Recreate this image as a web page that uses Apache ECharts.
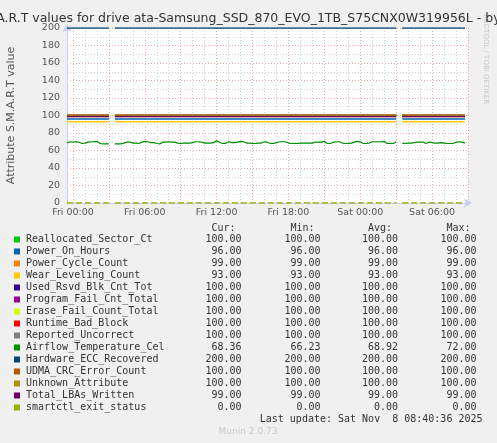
<!DOCTYPE html>
<html>
<head>
<meta charset="utf-8">
<script src="https://cdn.jsdelivr.net/npm/echarts@6/dist/echarts.min.js"></script>
<style>
  html, body { margin: 0; padding: 0; background: #f0f0f0; }
  #main { width: 497px; height: 443px; }
</style>
</head>
<body>
<div id="main"></div>
<script>
// munin "smart" day graph, 15 min slots starting Thu 23:30
var slotMinutes = 15;
var slotCount = 135;
var startDay = 'Thu', startMinute = 23 * 60 + 30;
var dayNames = ['Thu', 'Fri', 'Sat'];
var tickLabels = ['Fri 00:00', 'Fri 06:00', 'Fri 12:00', 'Fri 18:00', 'Sat 00:00', 'Sat 06:00'];
var gapSlots = [15, 111]; // no data (munin update missed)

var names = ['Reallocated_Sector_Ct', 'Power_On_Hours', 'Power_Cycle_Count', 'Wear_Leveling_Count',
    'Used_Rsvd_Blk_Cnt_Tot', 'Program_Fail_Cnt_Total', 'Erase_Fail_Count_Total', 'Runtime_Bad_Block',
    'Reported_Uncorrect', 'Airflow_Temperature_Cel', 'Hardware_ECC_Recovered', 'UDMA_CRC_Error_Count',
    'Unknown_Attribute', 'Total_LBAs_Written', 'smartctl_exit_status'];
var colors = ['#00CC00', '#0066B3', '#FF8000', '#FFCC00', '#330099', '#990099', '#CCFF00', '#FF0000',
    '#808080', '#008F00', '#00487D', '#B35A00', '#B38F00', '#6B006B', '#8FB300'];
var curVals = ['100.00', '96.00', '99.00', '93.00', '100.00', '100.00', '100.00', '100.00', '100.00',
    '68.36', '200.00', '100.00', '100.00', '99.00', '0.00'];
var minVals = ['100.00', '96.00', '99.00', '93.00', '100.00', '100.00', '100.00', '100.00', '100.00',
    '66.23', '200.00', '100.00', '100.00', '99.00', '0.00'];
var avgVals = ['100.00', '96.00', '99.00', '93.00', '100.00', '100.00', '100.00', '100.00', '100.00',
    '68.92', '200.00', '100.00', '100.00', '99.00', '0.00'];
var maxVals = ['100.00', '96.00', '99.00', '93.00', '100.00', '100.00', '100.00', '100.00', '100.00',
    '72.00', '200.00', '100.00', '100.00', '99.00', '0.00'];

// Airflow_Temperature_Cel, one value per slot
var tempValues = [
    68.5, 70, 69.5, 70, 69.5, 68, 68.5, 69.5, 70, 70, 70.5, 68, 67.5, 67.5, 67.5, null,
    67.5, 67.5, 67.5, 68.5, 69.5, 69.5, 68.5, 68.5, 68, 69.5, 70.5, 70, 69, 69, 68, 67.5, 69.5, 69.5,
    70, 69.5, 69.5, 68.5, 68, 68.5, 68.5, 68.5, 69, 70, 70, 69.5, 68.5, 68.5, 68.5, 69, 71, 69.5,
    68, 68, 70, 69, 69, 69.5, 70.5, 70, 68.5, 68.5, 68, 68, 68.5, 68.5, 70,
    69.5, 68, 68, 69, 70, 70, 70, 68.5, 68, 68, 68, 68.5, 68.5, 68.5, 68.5, 68.5, 69.5, 69.5,
    69.5, 70.5, 68, 68, 69.5, 70, 70, 68.5, 68, 68, 68.5, 69.5, 70.5, 70, 68,
    68, 68.5, 70, 70, 70, 70, 70.5, 68, 68, 68, 70, null, 68.5, 68, 68.5, 68.5, 69, 69.5, 69.5,
    69.5, 68, 69.5, 69, 68.5, 68.5, 69, 68.5, 68, 68, 68, 69.5, 70, 69.5, 68.36
];
var yTicks = [0, 20, 40, 60, 80, 100, 120, 140, 160, 180, 200];
var lastUpdate = 'Last update: Sat Nov  8 08:40:36 2025';

var categories = [];
for (var i = 0; i < slotCount; i++) {
    var m = startMinute + i * slotMinutes;
    var d = dayNames[dayNames.indexOf(startDay) + Math.floor(m / 1440)];
    var mm = m % 1440;
    var hh = Math.floor(mm / 60), mi = mm % 60;
    categories.push(d + ' ' + (hh < 10 ? '0' : '') + hh + ':' + (mi < 10 ? '0' : '') + mi);
}
var isHour = function (idx) { return /:00$/.test(categories[idx]); };
var isThree = function (idx) { return isHour(idx) && parseInt(categories[idx].substr(4, 2), 10) % 3 === 0; };

var series = names.map(function (name, k) {
    var data;
    if (name === 'Airflow_Temperature_Cel') {
        data = tempValues;
    } else {
        data = [];
        for (var j = 0; j < tempValues.length; j++) {
            data.push(gapSlots.indexOf(j) >= 0 ? null : parseFloat(curVals[k]));
        }
    }
    return {
        name: name,
        type: 'line',
        data: data,
        symbol: 'none',
        color: colors[k],
        lineStyle: {
            width: name === 'Airflow_Temperature_Cel' ? 1.2 : 1.5,
            color: colors[k],
            type: name === 'smartctl_exit_status' ? [6, 3] : 'solid'
        },
        animation: false
    };
});

var mono = '10px "DejaVu Sans Mono"';
var textCol = '#333';
var graphic = [];
var rowTop = 239.5, rowStep = 12;
var colRight = [241.5, 320.5, 398, 476.5];
['Cur:', 'Min:', 'Avg:', 'Max:'].forEach(function (h, c) {
    graphic.push({type: 'text', style: {text: h, x: colRight[c] - 6, y: 228, font: mono, fill: textCol,
        textAlign: 'right', align: 'right', textVerticalAlign: 'middle', verticalAlign: 'middle'}});
});
names.forEach(function (name, k) {
    var y = rowTop + k * rowStep;
    graphic.push({type: 'rect', shape: {x: 14, y: y - 3, width: 6, height: 6}, style: {fill: colors[k]}});
    graphic.push({type: 'text', style: {text: name, x: 26, y: y, font: mono, fill: textCol,
        textVerticalAlign: 'middle', verticalAlign: 'middle'}});
    [curVals, minVals, avgVals, maxVals].forEach(function (arr, c) {
        graphic.push({type: 'text', style: {text: arr[k], x: colRight[c], y: y, font: mono, fill: textCol,
            textAlign: 'right', align: 'right', textVerticalAlign: 'middle', verticalAlign: 'middle'}});
    });
});
graphic.push({type: 'text', style: {text: lastUpdate, x: 482.5, y: 419.5, font: mono, fill: textCol,
    textAlign: 'right', align: 'right', textVerticalAlign: 'middle', verticalAlign: 'middle'}});
graphic.push({type: 'text', style: {text: 'Munin 2.0.73', x: 248, y: 432, font: '9px "DejaVu Sans"', fill: '#c8c8c8',
    textAlign: 'center', align: 'center', textVerticalAlign: 'middle', verticalAlign: 'middle'}});
graphic.push({type: 'text', x: 486, y: 14, rotation: -Math.PI / 2,
    style: {text: 'RRDTOOL / TOBI OETIKER', x: 0, y: 0, font: '7px "DejaVu Sans"', fill: '#c8c8c8',
        textVerticalAlign: 'middle', verticalAlign: 'middle'}});
graphic.push({type: 'text', style: {text: 'S.M.A.R.T values for drive ata-Samsung_SSD_870_EVO_1TB_S75CNX0W319956L - by day',
    x: 248.5, y: 19, font: '12.5px "DejaVu Sans"', fill: '#333',
    textAlign: 'center', align: 'center', textVerticalAlign: 'middle', verticalAlign: 'middle'}});

var myChart = echarts.init(document.getElementById('main'), null, {renderer: 'canvas'});
myChart.setOption({
    backgroundColor: '#f0f0f0',
    animation: false,
    grid: {left: 67, top: 28, width: 401, height: 175, show: true, backgroundColor: '#fff', borderWidth: 0,
        outerBoundsMode: 'none', containLabel: false},
    xAxis: [{
        type: 'category',
        data: categories,
        boundaryGap: false,
        axisLine: {show: true, lineStyle: {color: '#c8ccf0', width: 1},
            symbol: ['none', 'arrow'], symbolSize: [7, 8], symbolOffset: [0, 4]},
        axisTick: {show: false},
        axisLabel: {
            color: '#555', fontSize: 9.5, fontFamily: 'DejaVu Sans', margin: 5,
            interval: function (idx, val) { return tickLabels.indexOf(val) >= 0; }
        },
        splitLine: {show: true, interval: function (idx) { return isThree(idx); },
            lineStyle: {color: '#eea8a8', type: [1, 2], width: 1}},
        z: 3
    }, {
        type: 'category',
        data: categories,
        boundaryGap: false,
        position: 'bottom',
        axisLine: {show: false},
        axisTick: {show: false},
        axisLabel: {show: false},
        splitLine: {show: true, interval: function (idx) { return isHour(idx) && !isThree(idx); },
            lineStyle: {color: '#d4d4d4', type: [1, 2], width: 1}},
        z: 2
    }],
    yAxis: {
        type: 'value',
        min: yTicks[0],
        max: yTicks[yTicks.length - 1],
        interval: 20,
        name: 'Attribute S.M.A.R.T value',
        nameLocation: 'middle',
        nameGap: 50,
        nameTextStyle: {color: '#555', fontSize: 11, fontFamily: 'DejaVu Sans'},
        axisLine: {show: true, lineStyle: {color: '#c8ccf0', width: 1},
            symbol: ['none', 'arrow'], symbolSize: [7, 8], symbolOffset: [0, 4]},
        axisTick: {show: false},
        axisLabel: {color: '#555', fontSize: 9.5, fontFamily: 'DejaVu Sans', margin: 7},
        splitLine: {show: true, lineStyle: {color: '#eea8a8', type: [1, 2], width: 1}},
        minorTick: {show: false, splitNumber: 2},
        minorSplitLine: {show: true, lineStyle: {color: '#d4d4d4', type: [1, 2], width: 1}}
    },
    graphic: graphic,
    series: series
});
</script>
</body>
</html>
